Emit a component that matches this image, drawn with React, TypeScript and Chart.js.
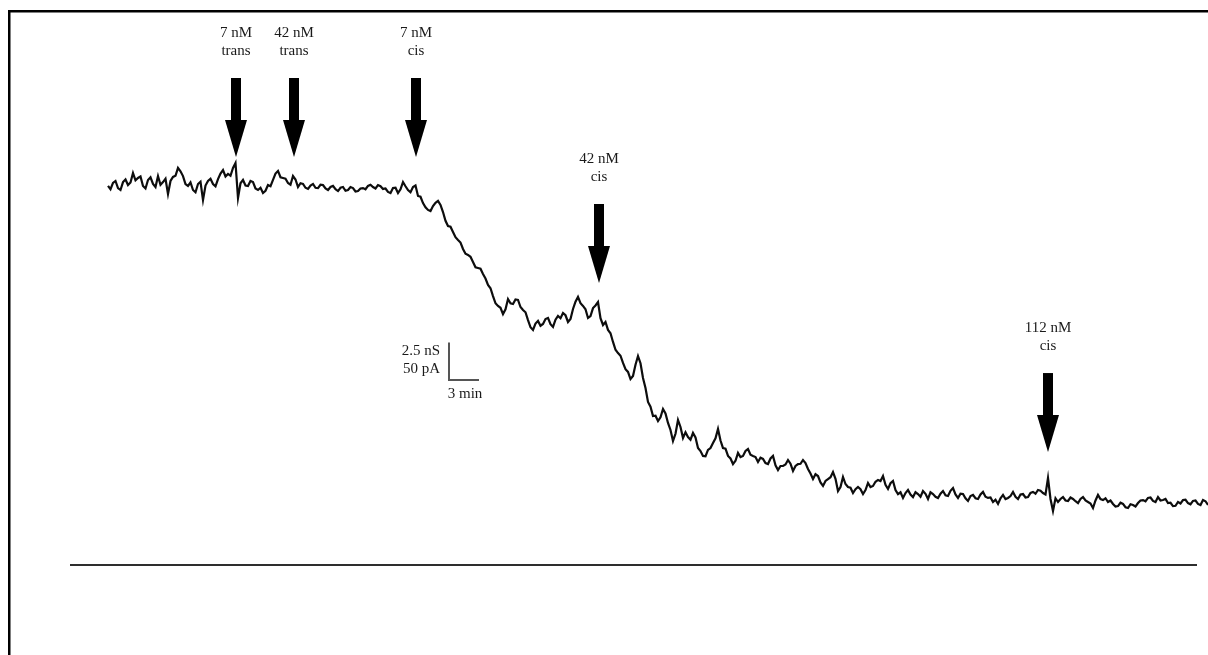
import { useEffect, useRef } from "react";
import { Chart, registerables } from "chart.js";

Chart.register(...registerables);

// Recording: whole-cell conductance (nS), one sample every 0.25 min
const SAMPLE_STEP_MIN = 0.25;
const conductanceNS = [
  22.27, 22.05, 22.47, 22.6, 22.13, 22.0, 22.53, 22.7, 22.33, 22.5, 23.13, 22.65, 22.8, 22.9, 22.27, 22.1, 22.67, 22.85, 22.4, 22.2,
  22.93, 22.35, 22.53, 22.75, 21.73, 22.6, 22.87, 22.95, 23.47, 23.25, 22.93, 22.4, 22.27, 22.5, 22.0, 21.85, 22.4, 22.55, 21.33, 22.3,
  22.6, 22.75, 22.4, 22.25, 22.73, 23.1, 23.33, 22.9, 23.07, 22.95, 23.47, 23.8, 21.47, 22.45, 22.67, 22.3, 22.27, 22.6, 22.53, 22.1,
  22.0, 22.15, 21.8, 21.95, 22.33, 22.25, 22.67, 23.1, 23.27, 22.85, 22.8, 22.75, 22.47, 22.35, 22.93, 22.7, 22.2, 22.45, 22.4, 22.15,
  22.07, 22.3, 22.4, 22.15, 22.13, 22.35, 22.33, 22.1, 22.0, 22.2, 22.27, 22.05, 21.93, 22.15, 22.2, 21.95, 22.0, 22.2, 22.13, 21.9,
  21.93, 22.1, 22.13, 22.05, 22.27, 22.35, 22.2, 22.1, 22.33, 22.25, 22.07, 22.1, 21.87, 21.8, 22.13, 22.15, 21.8, 22.05, 22.53, 22.25,
  22.0, 21.85, 22.2, 22.3, 21.6, 21.55, 21.13, 20.85, 20.67, 20.6, 20.93, 21.15, 21.27, 21.0, 20.53, 19.95, 19.6, 19.55, 19.2, 18.85,
  18.67, 18.5, 18.07, 17.75, 17.67, 17.55, 17.2, 16.85, 16.8, 16.75, 16.4, 16.1, 15.67, 15.45, 14.93, 14.45, 14.27, 14.15, 13.73, 14.05,
  14.73, 14.45, 14.4, 14.7, 14.67, 14.2, 14.0, 13.85, 13.33, 12.85, 12.67, 13.1, 13.27, 12.95, 13.07, 13.4, 13.47, 13.05, 12.87, 13.35,
  13.6, 13.45, 13.8, 13.65, 13.2, 13.4, 14.07, 14.55, 14.87, 14.45, 14.27, 14.05, 13.47, 13.6, 14.13, 14.3, 14.53, 13.45, 13.0, 13.2,
  12.67, 12.45, 11.87, 11.35, 11.13, 10.95, 10.47, 10.05, 9.87, 9.4, 9.6, 10.35, 10.93, 10.45, 9.47, 8.8, 7.87, 7.55, 6.93, 6.95,
  6.6, 6.85, 7.4, 7.1, 6.47, 6.0, 5.27, 5.75, 6.67, 6.2, 5.47, 5.85, 5.53, 5.35, 5.8, 5.5, 4.8, 4.6, 4.27, 4.25,
  4.67, 4.8, 5.13, 5.45, 6.07, 5.3, 4.8, 4.75, 4.27, 4.1, 3.73, 3.95, 4.47, 4.2, 4.27, 4.6, 4.73, 4.35, 4.27, 4.2,
  3.87, 4.15, 4.07, 3.8, 3.73, 4.1, 4.27, 3.65, 3.33, 3.6, 3.6, 3.7, 4.0, 3.75, 3.27, 3.6, 3.73, 3.75, 4.0, 3.8,
  3.4, 3.1, 2.73, 3.05, 2.93, 2.5, 2.27, 2.6, 2.73, 2.85, 3.2, 2.75, 1.93, 2.2, 2.87, 2.4, 2.2, 2.15, 1.8, 2.05,
  2.2, 2.05, 1.73, 2.0, 2.47, 2.2, 2.27, 2.55, 2.67, 2.6, 2.93, 2.35, 2.07, 2.45, 2.6, 2.0, 1.73, 1.85, 1.47, 1.8,
  2.0, 1.7, 1.53, 1.85, 1.73, 1.55, 1.93, 1.75, 1.4, 1.85, 1.73, 1.55, 1.47, 1.75, 1.93, 1.65, 1.6, 1.95, 2.13, 1.7,
  1.47, 1.75, 1.73, 1.45, 1.27, 1.6, 1.67, 1.45, 1.4, 1.7, 1.87, 1.55, 1.47, 1.5, 1.2, 1.35, 1.07, 1.45, 1.67, 1.4,
  1.47, 1.6, 1.87, 1.55, 1.4, 1.7, 1.73, 1.5, 1.53, 1.8, 1.87, 1.75, 2.0, 1.95, 1.8, 1.7, 2.8, 1.4, 0.6, 1.45,
  1.2, 1.4, 1.53, 1.3, 1.27, 1.5, 1.4, 1.25, 1.13, 1.4, 1.53, 1.3, 1.2, 1.1, 0.8, 1.3, 1.67, 1.4, 1.33, 1.45,
  1.2, 1.3, 1.07, 0.9, 0.93, 1.15, 1.07, 0.85, 0.8, 1.05, 1.0, 0.9, 1.13, 1.3, 1.33, 1.25, 1.47, 1.5, 1.27, 1.2,
  1.53, 1.3, 1.33, 1.4, 1.13, 1.15, 0.93, 0.95, 1.2, 1.1, 1.33, 1.35, 1.13, 1.05, 1.27, 1.3, 1.07, 1.0, 1.33, 1.25,
  1.0,
];

// Drug applications
const eventTimesMin = [12.8, 18.6, 30.8, 49.1, 94.0];
const eventDoses = ["7 nM", "42 nM", "7 nM", "42 nM", "112 nM"];
const eventIsomers = ["trans", "trans", "cis", "cis", "cis"];
const eventArrowTipNS = [24.2, 24.2, 24.2, 15.8, 4.53];

// Zero-current reference line
const baselineNS = -3.0;
const baselineSpanMin = [-3.8, 108.9];

// Scale bar
const scaleBarOriginMin = 34.1;
const scaleBarOriginNS = 9.33;
const scaleBarTimeMin = 3;
const scaleBarCondNS = 2.5;
const scaleBarLabels = ["2.5 nS", "50 pA", "3 min"];

// Axis windows
const X_MIN = -10.8;
const X_MAX = 110;
const Y_MIN = -9;
const Y_MAX = 34.6667;

const FONT = "15px 'Liberation Serif', 'DejaVu Serif', serif";

const overlayPlugin = {
  id: "overlay",
  afterDatasetsDraw(chart: any) {
    const ctx: CanvasRenderingContext2D = chart.ctx;
    const xs = chart.scales.x;
    const ys = chart.scales.y;
    ctx.save();

    // frame
    ctx.fillStyle = "#000";
    ctx.fillRect(8, 10, 1200, 2.5);
    ctx.fillRect(8, 10, 2.5, 645);

    // arrows + labels
    ctx.font = FONT;
    ctx.textAlign = "center";
    ctx.textBaseline = "middle";
    eventTimesMin.forEach((t, i) => {
      const x = xs.getPixelForValue(t);
      const tip = ys.getPixelForValue(eventArrowTipNS[i]);
      ctx.fillStyle = "#000";
      ctx.fillRect(x - 5, tip - 79, 10, 43);
      ctx.beginPath();
      ctx.moveTo(x - 11, tip - 37);
      ctx.lineTo(x + 11, tip - 37);
      ctx.lineTo(x, tip);
      ctx.closePath();
      ctx.fill();
      ctx.fillStyle = "#1a1a1a";
      ctx.fillText(eventDoses[i], x, tip - 124);
      ctx.fillText(eventIsomers[i], x, tip - 106);
    });

    // scale bar
    const cx = xs.getPixelForValue(scaleBarOriginMin);
    const cy = ys.getPixelForValue(scaleBarOriginNS);
    const top = ys.getPixelForValue(scaleBarOriginNS + scaleBarCondNS);
    const right = xs.getPixelForValue(scaleBarOriginMin + scaleBarTimeMin);
    ctx.strokeStyle = "#555";
    ctx.lineWidth = 2;
    ctx.beginPath();
    ctx.moveTo(cx, top);
    ctx.lineTo(cx, cy);
    ctx.lineTo(right, cy);
    ctx.stroke();
    ctx.fillStyle = "#1a1a1a";
    ctx.textAlign = "right";
    ctx.fillText(scaleBarLabels[0], cx - 9, top + 9);
    ctx.fillText(scaleBarLabels[1], cx - 9, top + 27);
    ctx.textAlign = "center";
    ctx.fillText(scaleBarLabels[2], (cx + right) / 2 + 1, cy + 14);

    ctx.restore();
  },
};

export default function App() {
  const ref = useRef<HTMLCanvasElement>(null);
  useEffect(() => {
    const points = conductanceNS.map((g, i) => ({ x: i * SAMPLE_STEP_MIN, y: g }));
    const baseline = baselineSpanMin.map((t) => ({ x: t, y: baselineNS }));
    const chart = new Chart(ref.current as HTMLCanvasElement, {
      type: "line",
      data: {
        datasets: [
          {
            data: points,
            borderColor: "#0d0d0d",
            borderWidth: 2.2,
            pointRadius: 0,
            tension: 0,
          },
          {
            data: baseline,
            borderColor: "#2e2e2e",
            borderWidth: 2,
            pointRadius: 0,
          },
        ],
      },
      options: {
        animation: false,
        responsive: false,
        events: [],
        layout: { padding: 0 },
        plugins: { legend: { display: false }, tooltip: { enabled: false } },
        scales: {
          x: { type: "linear", display: false, min: X_MIN, max: X_MAX },
          y: { type: "linear", display: false, min: Y_MIN, max: Y_MAX },
        },
      },
      plugins: [overlayPlugin],
    } as any);
    return () => chart.destroy();
  }, []);
  return (
    <div
      style={{
        position: "fixed",
        left: 0,
        top: 0,
        width: 1208,
        height: 655,
        background: "#fff",
      }}
    >
      <canvas ref={ref} width={1208} height={655} style={{ display: "block" }} />
    </div>
  );
}
